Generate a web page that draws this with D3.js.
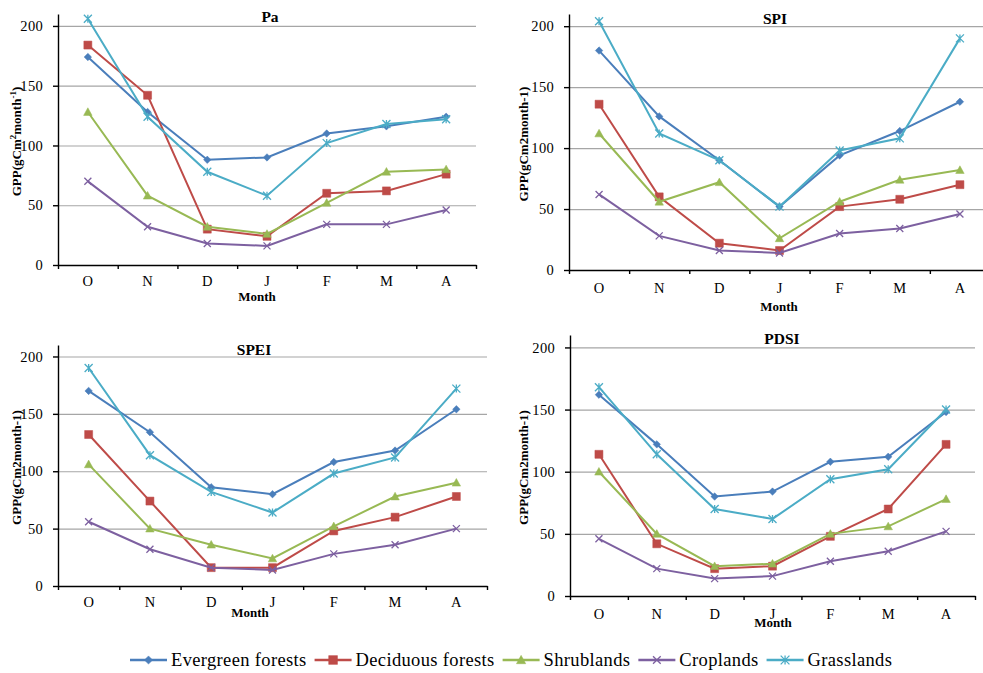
<!DOCTYPE html>
<html>
<head>
<meta charset="utf-8">
<script src="https://cdn.jsdelivr.net/npm/d3@7"></script>
<style>
  body { margin: 0; background: #fff; }
  text { font-family: "Liberation Serif", "Times New Roman", serif; fill: #000; }
</style>
</head>
<body>
<div id="chart"></div>
<script>
// data
var months = ['O', 'N', 'D', 'J', 'F', 'M', 'A']
var seriesNames = ['Evergreen forests', 'Deciduous forests', 'Shrublands', 'Croplands', 'Grasslands']
var seriesColors = ['#4A7EBB', '#BE4B48', '#98B954', '#7D60A0', '#4BACC6']
var yTicks = [0, 50, 100, 150, 200]

// one row per series, in seriesNames order
var paValues = [
  [174, 128, 88, 90, 110, 116, 124],
  [184, 142, 30, 24, 60, 62, 76],
  [128, 58, 32, 26, 52, 78, 80],
  [70, 32, 18, 16, 34, 34, 46],
  [206, 124, 78, 58, 102, 118, 122]
]
var spiValues = [
  [180, 126, 90, 52, 94, 114, 138],
  [136, 60, 22, 16, 52, 58, 70],
  [112, 56, 72, 26, 56, 74, 82],
  [62, 28, 16, 14, 30, 34, 46],
  [204, 112, 90, 52, 98, 108, 190]
]
var speiValues = [
  [170, 134, 86, 80, 108, 118, 154],
  [132, 74, 16, 16, 48, 60, 78],
  [106, 50, 36, 24, 52, 78, 90],
  [56, 32, 16, 14, 28, 36, 50],
  [190, 114, 82, 64, 98, 112, 172]
]
var pdsiValues = [
  [162, 122, 80, 84, 108, 112, 148],
  [114, 42, 22, 24, 48, 70, 122],
  [100, 50, 24, 26, 50, 56, 78],
  [46, 22, 14, 16, 28, 36, 52],
  [168, 114, 70, 62, 94, 102, 150]
]

// layout of the four panels
var panels = [
  { title: 'Pa', values: paValues, sup: true, x0: 58, x1: 476, yTop: 14, yBot: 265, tickPad: 11, titleX: 270, titleY: 22, monthX: 257, monthY: 301, labelX: 16 },
  { title: 'SPI', values: spiValues, sup: false, x0: 569, x1: 990, yTop: 14, yBot: 270, tickPad: 13, titleX: 775, titleY: 24, monthX: 779, monthY: 311, labelX: 523 },
  { title: 'SPEI', values: speiValues, sup: false, x0: 58, x1: 487, yTop: 345, yBot: 586, tickPad: 11, titleX: 254, titleY: 355, monthX: 250, monthY: 617, labelX: 16 },
  { title: 'PDSI', values: pdsiValues, sup: false, x0: 570, x1: 975, yTop: 335, yBot: 596, tickPad: 13, titleX: 782, titleY: 344, monthX: 773, monthY: 627, labelX: 523 }
]

// marker shapes, r = half width
var diamond = { draw: function (c, s) { var r = Math.sqrt(s) / 2; c.moveTo(0, -r); c.lineTo(r, 0); c.lineTo(0, r); c.lineTo(-r, 0); c.closePath() } }
var square = { draw: function (c, s) { var r = Math.sqrt(s) / 2; c.rect(-r, -r, 2 * r, 2 * r) } }
var triangle = { draw: function (c, s) { var r = Math.sqrt(s) / 2; c.moveTo(0, -r); c.lineTo(r, r * 0.8); c.lineTo(-r, r * 0.8); c.closePath() } }
var cross = { draw: function (c, s) { var r = Math.sqrt(s) / 2; c.moveTo(-r, -r); c.lineTo(r, r); c.moveTo(r, -r); c.lineTo(-r, r) } }
var star = { draw: function (c, s) { var r = Math.sqrt(s) / 2; c.moveTo(-r, -r); c.lineTo(r, r); c.moveTo(r, -r); c.lineTo(-r, r); c.moveTo(0, -r); c.lineTo(0, r) } }
var markers = [
  { type: diamond, size: 56, filled: true },
  { type: square, size: 64, filled: true },
  { type: triangle, size: 72, filled: true },
  { type: cross, size: 49, filled: false },
  { type: star, size: 64, filled: false }
]

var svg = d3.select('#chart').append('svg')
  .attr('width', 983)
  .attr('height', 673)

panels.forEach(function (p) {
  var g = svg.append('g')

  var x = d3.scaleBand().domain(months).range([p.x0, p.x1])
  var xEdge = d3.scaleLinear().domain([0, months.length]).range([p.x0, p.x1])
  var y = d3.scaleLinear().domain([0, 210]).range([p.yBot, p.yTop])

  // gridlines
  var grid = g.append('g')
    .attr('transform', 'translate(' + p.x0 + ',0)')
    .call(d3.axisLeft(y).tickValues(yTicks.slice(1)).tickSize(-(p.x1 - p.x0)).tickFormat(''))
  grid.select('.domain').remove()
  grid.selectAll('line').attr('stroke', '#a6a6a6').attr('stroke-width', 1.2)

  // y axis
  var yAxis = g.append('g')
    .attr('transform', 'translate(' + p.x0 + ',0)')
    .call(d3.axisLeft(y).tickValues(yTicks).tickSize(5).tickSizeOuter(0).tickPadding(10))
  yAxis.attr('font-family', null)
  yAxis.selectAll('text').attr('font-size', 14.5).attr('letter-spacing', 0.3)
  yAxis.selectAll('line, path').attr('stroke', '#000').attr('stroke-width', 1.4)

  // x axis: ticks at band edges, labels at band centres
  var xAxis = g.append('g')
    .attr('transform', 'translate(0,' + p.yBot + ')')
    .call(d3.axisBottom(xEdge).tickValues(d3.range(months.length + 1)).tickSize(4).tickSizeOuter(0).tickFormat(''))
  xAxis.selectAll('line, path').attr('stroke', '#000').attr('stroke-width', 1.4)

  var xLabels = g.append('g')
    .attr('transform', 'translate(0,' + p.yBot + ')')
    .call(d3.axisBottom(x).tickSize(0).tickPadding(p.tickPad))
  xLabels.attr('font-family', null)
  xLabels.select('.domain').remove()
  xLabels.selectAll('text').attr('font-size', 14.5)

  // titles
  g.append('text')
    .attr('x', p.titleX).attr('y', p.titleY)
    .attr('text-anchor', 'middle')
    .attr('font-size', 15.5).attr('font-weight', 'bold')
    .text(p.title)

  g.append('text')
    .attr('x', p.monthX).attr('y', p.monthY)
    .attr('text-anchor', 'middle')
    .attr('font-size', 13).attr('font-weight', 'bold')
    .text('Month')

  var cy = (p.yTop + p.yBot) / 2 + 2
  var yl = g.append('text')
    .attr('transform', 'translate(' + p.labelX + ',' + cy + ') rotate(-90)')
    .attr('text-anchor', 'middle')
    .attr('dy', '0.35em')
    .attr('font-size', 13).attr('font-weight', 'bold')
  if (p.sup) {
    yl.append('tspan').text('GPP(gCm')
    yl.append('tspan').attr('font-size', 9).attr('dy', -5).text('2')
    yl.append('tspan').attr('dy', 5).text('month')
    yl.append('tspan').attr('font-size', 9).attr('dy', -5).text('-1')
    yl.append('tspan').attr('dy', 5).text(')')
  } else {
    yl.text('GPP(gCm2month-1)')
  }

  // series
  var line = d3.line()
    .x(function (d, i) { return x(months[i]) + x.bandwidth() / 2 })
    .y(function (d) { return y(d) })

  p.values.forEach(function (vals, si) {
    var col = seriesColors[si]
    g.append('path')
      .datum(vals)
      .attr('fill', 'none')
      .attr('stroke', col)
      .attr('stroke-width', 2)
      .attr('d', line)

    var m = markers[si]
    g.selectAll('.m' + si)
      .data(vals)
      .enter().append('path')
      .attr('class', 'm' + si)
      .attr('transform', function (d, i) { return 'translate(' + (x(months[i]) + x.bandwidth() / 2) + ',' + y(d) + ')' })
      .attr('d', d3.symbol().type(m.type).size(m.size))
      .attr('fill', m.filled ? col : 'none')
      .attr('stroke', col)
      .attr('stroke-width', m.filled ? 0.5 : 1.3)
  })
})

// legend
var legend = svg.append('g').attr('transform', 'translate(130,660)')
var lx = 0
seriesNames.forEach(function (name, si) {
  var item = legend.append('g').attr('transform', 'translate(' + lx + ',0)')
  item.append('line')
    .attr('x1', 0).attr('x2', 37)
    .attr('stroke', seriesColors[si]).attr('stroke-width', 2.5)
  var m = markers[si]
  item.append('path')
    .attr('transform', 'translate(18.5,0)')
    .attr('d', d3.symbol().type(m.type).size(m.size * 1.2))
    .attr('fill', m.filled ? seriesColors[si] : 'none')
    .attr('stroke', seriesColors[si])
    .attr('stroke-width', m.filled ? 0.5 : 1.3)
  var t = item.append('text')
    .attr('x', 41).attr('y', 6)
    .attr('font-size', 18.5)
    .attr('letter-spacing', 0.35)
    .text(name)
  lx += 41 + t.node().getComputedTextLength() + 8
})
</script>
</body>
</html>
